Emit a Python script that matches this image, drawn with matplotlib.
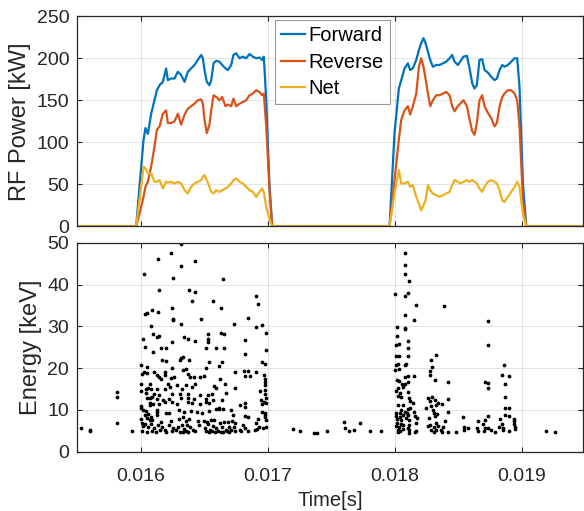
import matplotlib

matplotlib.use("Agg")
import matplotlib.pyplot as plt
import numpy as np

plt.rcParams["font.family"] = ["Liberation Sans", "DejaVu Sans"]

# RF power traces (time in ms, power in kW), two pulses
pulse1_ms = [15.962, 15.988, 16.020, 16.035, 16.054, 16.080, 16.106, 16.125, 16.146, 16.172,
             16.198, 16.211, 16.238, 16.264, 16.290, 16.316, 16.343, 16.369, 16.395, 16.421,
             16.447, 16.474, 16.487, 16.500, 16.518, 16.539, 16.553, 16.571, 16.592, 16.618,
             16.639, 16.665, 16.684, 16.710, 16.728, 16.749, 16.776, 16.802, 16.828, 16.854,
             16.881, 16.907, 16.933, 16.954, 16.967, 16.986, 17.012, 17.033]
forward1 = [0, 47, 103, 117, 110, 134, 150, 162, 168, 172,
            188, 174, 176, 176, 184, 180, 172, 184, 188, 192,
            198, 204, 200, 186, 172, 168, 174, 194, 197, 196,
            192, 188, 186, 192, 204, 206, 200, 202, 200, 205,
            202, 200, 201, 198, 202, 150, 47, 0]
reverse1 = [0, 15, 35, 47, 53, 71, 95, 115, 119, 134,
            138, 123, 123, 125, 134, 121, 133, 140, 143, 146,
            150, 151, 146, 127, 111, 121, 138, 156, 154, 150,
            154, 143, 145, 143, 152, 143, 146, 148, 150, 156,
            158, 162, 160, 156, 158, 119, 43, 0]
net1 = [0, 31, 71, 69, 63, 63, 53, 53, 55, 45,
        53, 52, 53, 51, 53, 51, 43, 39, 47, 51,
        53, 55, 59, 61, 55, 47, 41, 39, 43, 41,
        43, 45, 47, 51, 55, 57, 53, 51, 47, 43,
        41, 35, 41, 45, 41, 23, 8, 0]

pulse2_ms = [17.957, 17.996, 18.030, 18.049, 18.075, 18.101, 18.119, 18.140, 18.167, 18.188,
             18.206, 18.224, 18.240, 18.259, 18.277, 18.298, 18.324, 18.350, 18.377, 18.403,
             18.429, 18.450, 18.469, 18.495, 18.513, 18.539, 18.566, 18.587, 18.608, 18.626,
             18.644, 18.665, 18.686, 18.705, 18.731, 18.757, 18.783, 18.802, 18.823, 18.844,
             18.862, 18.888, 18.915, 18.941, 18.962, 18.980, 19.007, 19.033]
forward2 = [0, 111, 164, 174, 188, 194, 186, 188, 198, 210,
            218, 224, 218, 208, 198, 190, 192, 192, 194, 196,
            200, 204, 196, 192, 196, 202, 203, 188, 170, 164,
            168, 198, 199, 186, 183, 178, 174, 176, 186, 192,
            190, 192, 196, 200, 200, 166, 51, 0]
reverse2 = [0, 55, 103, 127, 138, 143, 133, 143, 158, 190,
            200, 190, 176, 158, 143, 150, 156, 156, 158, 160,
            156, 143, 137, 143, 146, 150, 143, 127, 113, 109,
            123, 150, 156, 143, 135, 129, 119, 123, 143, 154,
            158, 162, 162, 158, 150, 119, 31, 0]
net2 = [0, 39, 67, 51, 51, 53, 47, 49, 35, 27,
        19, 25, 31, 49, 43, 39, 37, 35, 37, 39,
        41, 49, 55, 53, 51, 53, 55, 53, 55, 53,
        51, 45, 41, 47, 53, 55, 53, 51, 43, 31,
        29, 35, 41, 47, 53, 47, 15, 0]

# detected hits: time (ms) and energy (keV)
hit_ms = [
    15.528, 15.598, 15.598, 15.811, 15.811, 15.811, 15.927, 17.199, 17.255, 17.360,
    17.386, 17.467, 17.601, 17.606, 17.640, 17.680, 17.724, 17.806, 17.892, 19.192,
    19.257,
    # pulse 1
    16.312, 16.234, 16.136, 16.423, 16.315, 16.024, 16.648, 16.249, 16.139, 16.378,
    16.428, 16.903, 16.921, 16.399, 16.567, 16.627, 16.241, 16.084, 16.136, 16.031,
    16.050, 16.472, 16.840, 16.252, 16.249, 16.076, 16.315, 16.732, 16.903, 16.955,
    16.097, 16.123, 16.139, 16.013, 16.341, 16.367, 16.423, 16.247, 16.525, 16.528,
    16.528, 16.630, 16.651, 16.819, 16.982, 16.029, 16.157, 16.194, 16.514, 16.593,
    16.654, 16.982, 16.092, 16.318, 16.304, 16.333, 16.163, 16.197, 16.378, 16.816,
    16.953, 16.979, 16.533, 16.635, 15.997, 16.045, 16.247, 16.331, 16.354, 16.509,
    16.617, 16.737, 16.814, 16.843, 16.906, 16.971, 16.011, 16.026, 16.045, 16.102,
    16.129, 16.186, 16.189, 16.139, 16.157, 16.239, 16.262, 16.367, 16.383, 16.415,
    16.462, 16.499, 16.625, 16.822, 16.856, 16.974, 16.974, 16.000, 16.068, 16.213,
    16.281, 16.357, 16.423, 16.575, 16.659, 16.974, 16.039, 16.053, 16.076, 16.126,
    16.186, 16.226, 16.402, 16.320, 16.591, 16.740, 16.940, 16.979, 16.003, 16.039,
    16.102, 16.144, 16.241, 16.310, 16.367, 16.462, 16.530, 16.562, 16.669, 16.979,
    16.045, 16.073, 16.089, 16.126, 16.176, 16.223, 16.315, 16.367, 16.420, 16.510,
    16.570, 16.635, 16.948, 16.982, 16.073, 16.097, 16.068, 16.144, 16.186, 16.241,
    16.281, 16.367, 16.402, 16.462, 16.509, 16.533, 16.593, 16.617, 16.643, 16.816,
    16.816, 16.782, 16.966, 16.950, 16.984, 15.997, 16.003, 16.016, 16.042, 16.123,
    16.129, 16.197, 16.220, 16.299, 16.338, 16.396, 16.438, 16.478, 16.533, 16.614,
    16.711, 16.724, 16.816, 16.843, 16.955, 16.976, 16.979, 16.029, 16.058, 16.076,
    16.000, 16.045, 16.071, 16.086, 16.123, 16.157, 16.236, 16.296, 16.330, 16.357,
    16.381, 16.451, 16.496, 16.522, 16.554, 16.575, 16.619, 16.656, 16.685, 16.714,
    16.740, 16.800, 16.906, 16.925, 16.974, 16.984, 16.005, 16.016, 16.034, 16.055,
    16.079, 16.102, 16.134, 16.165, 16.189, 16.220, 16.249, 16.291, 16.323, 16.341,
    16.360, 16.383, 16.412, 16.459, 16.501, 16.525, 16.546, 16.564, 16.591, 16.609,
    16.640, 16.669, 16.690, 16.711, 16.735, 16.777, 16.822, 16.900, 16.932, 16.958,
    16.984, 16.010, 16.050, 16.089, 16.118, 16.150, 16.199, 16.241, 16.276, 16.307,
    16.328, 16.351, 16.373, 16.425, 16.514, 16.533, 16.556, 16.583, 16.630, 16.649,
    16.677, 16.690, 16.738, 16.785, 16.845, 16.916,
    # pulse 2
    18.079, 18.079, 18.079, 18.108, 18.003, 18.076, 18.102, 18.165, 18.383, 18.079,
    18.147, 18.735, 18.016, 18.079, 18.081, 18.016, 18.100, 18.008, 18.034, 18.102,
    18.735, 18.008, 18.034, 18.100, 18.325, 18.286, 18.008, 18.024, 18.076, 18.087,
    18.294, 18.861, 17.997, 18.034, 18.276, 18.276, 18.081, 18.102, 18.147, 18.845,
    18.895, 18.016, 18.034, 18.100, 18.318, 18.420, 18.709, 18.735, 18.864, 18.052,
    18.066, 18.081, 18.024, 18.060, 18.010, 18.102, 18.730, 18.039, 18.026, 18.050,
    18.108, 18.115, 18.864, 18.420, 18.262, 18.289, 18.278, 18.312, 18.338, 18.373,
    18.244, 18.286, 18.320, 18.139, 18.024, 18.063, 18.102, 18.118, 18.047, 18.010,
    18.037, 18.076, 18.092, 18.150, 18.297, 18.417, 18.864, 18.895, 18.305, 18.328,
    18.005, 18.042, 18.066, 18.102, 18.160, 18.013, 18.047, 18.089, 18.113, 18.171,
    18.318, 18.535, 18.735, 18.864, 18.897, 18.265, 18.394, 18.651, 18.709, 18.827,
    18.937, 18.937, 18.018, 18.047, 18.165, 18.278, 18.323, 18.108, 18.690, 18.845,
    18.937, 18.010, 18.034, 18.066, 18.102, 18.260, 18.305, 18.341, 18.380, 18.541,
    18.575, 18.648, 18.709, 18.732, 18.819, 18.853, 18.942, 18.942, 18.026, 18.066,
    18.110, 18.168, 18.281, 18.323, 18.365, 18.543, 18.651, 18.698, 18.753, 18.790,
    18.848, 18.895, 18.024, 18.037, 18.113, 18.160, 18.307, 18.373, 18.415, 18.480,
]
hit_kev = [
    5.6, 5.2, 4.9, 14.3, 13.2, 6.9, 4.9, 5.4, 4.9, 4.5,
    4.5, 5.0, 7.2, 5.6, 4.9, 5.3, 6.8, 4.9, 4.9, 4.9,
    4.6,
    # pulse 1
    49.6, 47.5, 46.0, 45.6, 44.4, 42.5, 41.3, 41.6, 38.6, 38.8,
    38.1, 37.2, 35.3, 36.0, 36.0, 34.5, 34.5, 34.0, 33.5, 33.0,
    33.1, 31.8, 32.1, 31.7, 31.4, 30.0, 30.5, 30.5, 29.8, 30.2,
    28.1, 27.4, 27.8, 27.0, 27.4, 27.0, 26.6, 26.2, 28.2, 26.9,
    26.2, 28.5, 28.2, 26.7, 28.3, 25.1, 24.7, 24.9, 24.7, 24.8,
    24.7, 24.4, 23.8, 22.4, 21.9, 22.6, 22.0, 21.8, 22.0, 23.3,
    21.5, 21.1, 21.4, 21.4, 20.7, 20.3, 20.1, 19.6, 19.7, 20.1,
    20.5, 19.0, 19.2, 19.2, 19.1, 18.3, 18.7, 19.0, 18.8, 19.0,
    18.4, 19.0, 18.3, 17.9, 17.4, 17.6, 17.9, 18.5, 17.9, 17.9,
    17.9, 18.1, 17.5, 18.1, 18.1, 17.3, 16.7, 16.3, 16.3, 16.2,
    15.9, 16.0, 16.2, 15.7, 16.3, 15.9, 15.0, 15.2, 14.9, 15.0,
    15.0, 15.5, 15.4, 15.1, 15.2, 15.2, 14.6, 14.8, 14.6, 14.0,
    13.7, 13.5, 13.9, 13.7, 13.9, 13.6, 13.6, 13.9, 14.0, 13.8,
    12.9, 12.8, 13.2, 12.6, 12.4, 12.6, 12.8, 12.9, 12.5, 12.7,
    12.4, 12.4, 12.4, 12.8, 11.7, 11.5, 11.2, 11.5, 12.0, 11.8,
    11.4, 11.9, 11.6, 11.4, 11.9, 11.6, 10.3, 10.4, 10.2, 11.6,
    10.8, 11.1, 12.0, 11.5, 11.6, 11.0, 10.4, 10.0, 9.7, 10.0,
    9.6, 9.3, 9.2, 10.0, 9.4, 9.7, 9.6, 9.3, 9.7, 10.3,
    10.0, 8.9, 8.5, 8.4, 9.6, 9.3, 8.7, 8.9, 9.0, 8.4,
    7.8, 8.0, 7.7, 7.6, 8.7, 7.2, 7.4, 7.8, 8.3, 7.3,
    7.9, 7.4, 7.3, 7.2, 7.7, 7.6, 6.9, 7.0, 7.2, 7.4,
    6.9, 6.3, 6.9, 7.9, 8.2, 7.6, 6.8, 6.1, 6.6, 6.0,
    6.6, 5.7, 6.4, 6.0, 5.2, 6.4, 5.6, 6.0, 6.4, 5.5,
    6.5, 5.8, 5.2, 6.3, 5.7, 6.6, 5.3, 6.1, 5.7, 5.0,
    6.0, 5.2, 6.0, 5.3, 6.0, 5.2, 5.7, 5.3, 6.0, 5.6,
    5.8, 4.9, 4.7, 4.9, 4.7, 5.2, 4.7, 4.9, 5.2, 4.7,
    4.7, 4.9, 4.7, 4.9, 4.9, 4.6, 4.9, 4.7, 4.8, 4.6,
    4.9, 4.7, 4.9, 4.9, 4.9, 5.4,
    # pulse 2
    47.5, 44.6, 42.4, 40.8, 37.7, 37.2, 38.0, 35.2, 34.9, 32.8,
    31.6, 31.3, 29.8, 29.7, 29.3, 27.7, 26.5, 25.5, 25.7, 24.8,
    25.5, 23.0, 23.0, 22.9, 23.2, 21.9, 20.7, 21.0, 20.7, 21.1,
    20.3, 20.8, 19.5, 19.7, 19.4, 18.3, 17.9, 18.2, 18.2, 18.4,
    18.1, 17.1, 17.0, 16.6, 17.1, 16.7, 16.8, 16.5, 16.2, 16.2,
    15.9, 16.3, 15.2, 15.6, 14.5, 14.4, 15.2, 14.0, 13.4, 13.0,
    12.8, 12.2, 13.0, 12.6, 12.9, 13.2, 12.1, 12.4, 11.6, 11.4,
    10.5, 11.0, 11.2, 11.6, 11.1, 11.2, 10.2, 10.4, 10.1, 9.3,
    9.3, 9.5, 9.2, 9.6, 9.9, 9.4, 10.4, 10.4, 9.3, 9.0,
    8.5, 8.4, 8.8, 8.7, 8.6, 7.9, 7.6, 8.0, 7.6, 8.1,
    8.6, 8.4, 8.5, 8.8, 8.5, 8.0, 7.4, 7.4, 7.7, 7.8,
    7.8, 7.3, 6.9, 6.6, 6.9, 6.5, 6.9, 6.4, 6.6, 6.6,
    6.7, 6.1, 6.0, 6.4, 5.7, 6.1, 5.9, 6.1, 6.0, 5.9,
    5.7, 5.7, 5.7, 5.7, 6.0, 5.7, 6.0, 5.4, 5.3, 5.5,
    5.3, 5.0, 5.3, 5.1, 5.2, 5.3, 4.9, 4.9, 5.3, 4.8,
    5.3, 4.9, 4.8, 4.9, 4.4, 4.7, 4.8, 4.8, 4.6, 4.8,
]

power_ticks = [0, 50, 100, 150, 200, 250]
energy_ticks = [0, 10, 20, 30, 40, 50]
time_ticks = [0.016, 0.017, 0.018, 0.019]

BLUE = "#0072BD"
ORANGE = "#D95319"
YELLOW = "#EDB120"
AXIS = "#262626"


def style_axes(ax):
    ax.grid(True, color=AXIS, alpha=0.15, linewidth=0.6)
    ax.set_axisbelow(True)
    ax.tick_params(direction="in", top=True, right=True, length=3.5, width=0.8,
                   colors=AXIS, labelsize=14, pad=6)
    for spine in ax.spines.values():
        spine.set_color(AXIS)
        spine.set_linewidth(0.9)


def main():
    t_start, t_end = 15.5, 19.48
    time = np.array([t_start] + pulse1_ms + pulse2_ms + [t_end]) * 1e-3
    forward = [0] + forward1 + forward2 + [0]
    reverse = [0] + reverse1 + reverse2 + [0]
    net = [0] + net1 + net2 + [0]

    fig = plt.figure(figsize=(5.84, 5.11), dpi=100)
    ax1 = fig.add_axes([0.1327, 0.5571, 0.8656, 0.4110])
    ax2 = fig.add_axes([0.1327, 0.1160, 0.8656, 0.4090])

    ax1.plot(time, forward, color=BLUE, linewidth=1.6, label="Forward")
    ax1.plot(time, reverse, color=ORANGE, linewidth=1.6, label="Reverse")
    ax1.plot(time, net, color=YELLOW, linewidth=1.6, label="Net")
    ax1.set_xlim(t_start * 1e-3, t_end * 1e-3)
    ax1.set_ylim(0, 250)
    ax1.set_yticks(power_ticks)
    ax1.set_xticks(time_ticks)
    ax1.set_xticklabels([])
    ax1.set_ylabel("RF Power [kW]", fontsize=17, color=AXIS, labelpad=4)
    style_axes(ax1)
    leg = ax1.legend(loc="upper left", bbox_to_anchor=(0.391, 0.983), borderaxespad=0,
                     fontsize=14.5, handlelength=1.2, handletextpad=0.15, borderpad=0.3,
                     labelspacing=0.38, fancybox=False, framealpha=1, edgecolor="#999999")
    leg.get_frame().set_linewidth(0.8)

    ax2.plot(np.array(hit_ms) * 1e-3, hit_kev, linestyle="none", marker="o",
             markersize=1.7, color="black")
    ax2.set_xlim(t_start * 1e-3, t_end * 1e-3)
    ax2.set_ylim(0, 50)
    ax2.set_yticks(energy_ticks)
    ax2.set_xticks(time_ticks)
    ax2.set_xticklabels([f"{t:.3f}" for t in time_ticks])
    ax2.set_ylabel("Energy [keV]", fontsize=17, color=AXIS, labelpad=4)
    ax2.set_xlabel("Time[s]", fontsize=14.5, color=AXIS, labelpad=4)
    style_axes(ax2)
    ax2.tick_params(axis="x", pad=12)

    fig.savefig("out.png", dpi=100)


if __name__ == "__main__":
    main()
